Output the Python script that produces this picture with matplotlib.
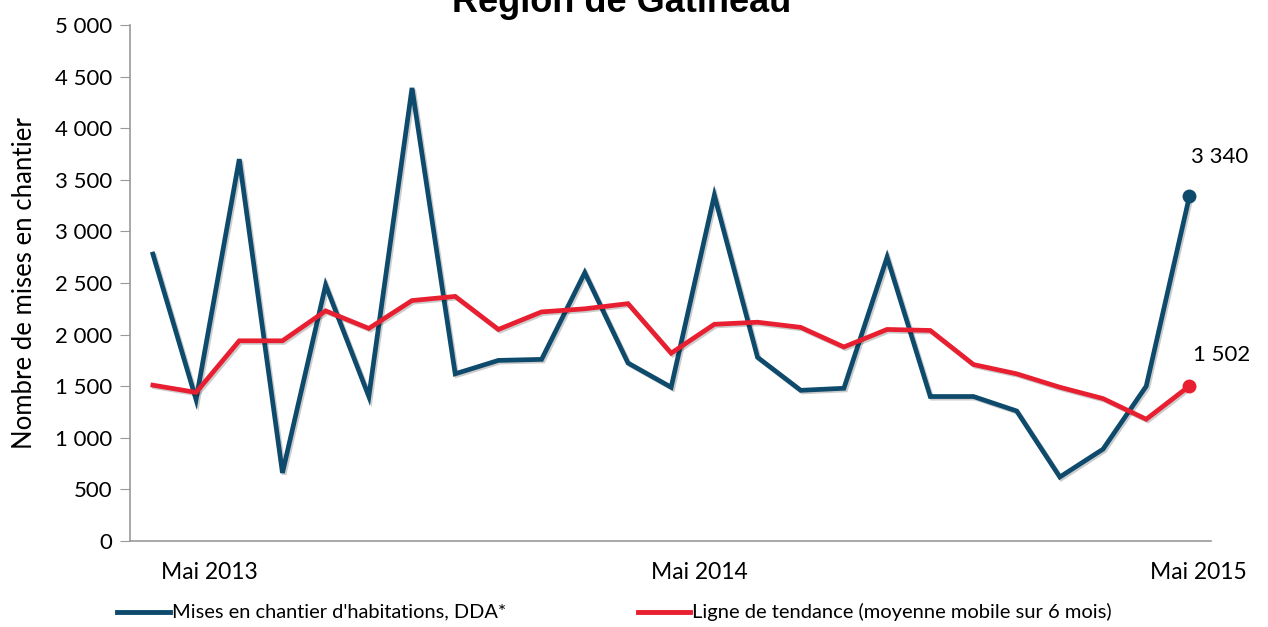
import matplotlib
matplotlib.use('Agg')
import matplotlib.pyplot as plt
import matplotlib.patheffects as pe
import numpy as np

# ============ données ============
mises_chantier = [2780, 1370, 3700, 660, 2480, 1400, 4390, 1620, 1750, 1760,
                  2600, 1725, 1490, 3350, 1780, 1460, 1480, 2750, 1400, 1400,
                  1260, 620, 890, 1500, 3340]
tendance = [1510, 1440, 1940, 1940, 2230, 2060, 2330, 2370, 2050, 2220,
            2250, 2300, 1820, 2100, 2120, 2070, 1880, 2050, 2040, 1710,
            1620, 1490, 1380, 1180, 1502]
x_labels = ['Mai 2013', 'Mai 2014', 'Mai 2015']
y_ticks = [0, 500, 1000, 1500, 2000, 2500, 3000, 3500, 4000, 4500, 5000]

BLUE = '#0d4a6c'
RED = '#e81f30'
FONT = 'Lato'

plt.rcParams['font.family'] = [FONT, 'DejaVu Sans']

def fmt(v):
    """format avec espace pour les milliers"""
    return f"{v:,}".replace(',', ' ')

fig = plt.figure(figsize=(12.68, 6.27), dpi=100)
ax = fig.add_axes([130 / 1268, 1 - 541 / 627, (1211 - 130) / 1268, (541 - 25) / 627])

x = np.arange(len(mises_chantier))
shadow = [pe.SimpleLineShadow(offset=(1.2, -1.2), alpha=0.2, shadow_color='black'), pe.Normal()]

ax.plot(x, mises_chantier, color=BLUE, linewidth=3.4, solid_joinstyle='miter',
        path_effects=shadow, zorder=3)
ax.plot(x, tendance, color=RED, linewidth=3.4, solid_joinstyle='miter',
        path_effects=shadow, zorder=4)

# points de fin
ax.plot(x[-1], mises_chantier[-1], 'o', color=BLUE, markersize=9, zorder=5)
ax.plot(x[-1], tendance[-1], 'o', color=RED, markersize=9, zorder=5)
ax.text(x[-1] + 0.7, mises_chantier[-1] + 380, fmt(mises_chantier[-1]),
        ha='center', va='center', fontsize=16, clip_on=False)
ax.text(x[-1] + 0.75, tendance[-1] + 300, fmt(tendance[-1]),
        ha='center', va='center', fontsize=16, clip_on=False)

# axes
ax.set_xlim(-0.53, 24.5)
ax.set_ylim(0, 5000)
ax.set_yticks(y_ticks)
ax.set_yticklabels([fmt(v) for v in y_ticks], fontsize=16)
ax.tick_params(axis='y', length=7, color='#999999', pad=6)
ax.set_xticks([])
for s in ['top', 'right']:
    ax.spines[s].set_visible(False)
for s in ['left', 'bottom']:
    ax.spines[s].set_color('#999999')
    ax.spines[s].set_linewidth(1.2)

label_pos = [1.3, 12.65, 24.2]
for lab, p in zip(x_labels, label_pos):
    ax.text(p, -310, lab, ha='center', va='center', fontsize=16.5, clip_on=False)

fig.text(25 / 1268, 1 - 283 / 627, 'Nombre de mises en chantier', rotation=90,
         ha='center', va='center', fontsize=18.5)

# titre (coupé en haut, comme l'original)
fig.text(622 / 1268, 1 - 12 / 627, 'Région de Gatineau', ha='center', va='baseline',
         fontsize=26, fontweight='bold', family=['Liberation Sans', 'DejaVu Sans'])

# légende
ly = 1 - 612 / 627
fig.add_artist(plt.Line2D([117 / 1268, 170 / 1268], [ly, ly], color=BLUE, linewidth=3.5))
fig.text(172 / 1268, ly, "Mises en chantier d'habitations, DDA*", ha='left', va='center', fontsize=14.4)
fig.add_artist(plt.Line2D([638 / 1268, 690 / 1268], [ly, ly], color=RED, linewidth=3.5))
fig.text(692 / 1268, ly, 'Ligne de tendance (moyenne mobile sur 6 mois)', ha='left', va='center', fontsize=14.5)

fig.savefig('out.png', dpi=100, facecolor='white')
